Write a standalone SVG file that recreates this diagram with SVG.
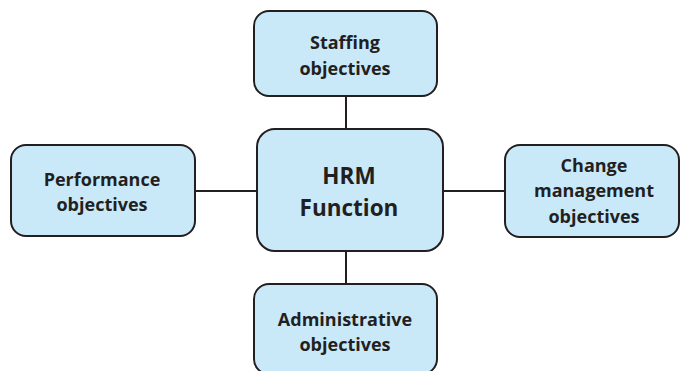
<svg xmlns="http://www.w3.org/2000/svg" width="680" height="371" viewBox="0 0 680 371">
  <style>
    .box { fill: #c9e9f9; stroke: #231f20; stroke-width: 2; }
    .link { stroke: #231f20; stroke-width: 2; fill: none; }
    .lbl { font-family: "Open Sans", "Noto Sans", sans-serif; font-weight: bold; font-size: 18px; fill: #231f20; text-anchor: middle; }
    .big { font-size: 22.5px; }
  </style>
  <rect width="680" height="371" fill="#ffffff"/>
  <g id="connectors">
    <line class="link" x1="346" y1="96" x2="346" y2="129"/>
    <line class="link" x1="346" y1="251" x2="346" y2="284"/>
    <line class="link" x1="195" y1="191" x2="257" y2="191"/>
    <line class="link" x1="443" y1="191" x2="505" y2="191"/>
  </g>
  <g id="hrm">
    <rect class="box" x="257" y="129" width="186" height="122" rx="18"/>
    <text class="lbl big" x="349" y="184">HRM</text>
    <text class="lbl big" x="349" y="216">Function</text>
  </g>
  <g id="staffing">
    <rect class="box" x="254" y="11" width="183" height="85" rx="15"/>
    <text class="lbl" x="345" y="49">Staffing</text>
    <text class="lbl" x="345" y="75">objectives</text>
  </g>
  <g id="performance">
    <rect class="box" x="11" y="145" width="184" height="91" rx="15"/>
    <text class="lbl" x="102" y="186">Performance</text>
    <text class="lbl" x="102" y="211">objectives</text>
  </g>
  <g id="change">
    <rect class="box" x="505" y="145" width="174" height="92" rx="15"/>
    <text class="lbl" x="594" y="172">Change</text>
    <text class="lbl" x="594" y="197">management</text>
    <text class="lbl" x="594" y="223">objectives</text>
  </g>
  <g id="administrative">
    <rect class="box" x="254" y="284" width="183" height="90" rx="15"/>
    <text class="lbl" x="345" y="326">Administrative</text>
    <text class="lbl" x="345" y="351">objectives</text>
  </g>
</svg>
